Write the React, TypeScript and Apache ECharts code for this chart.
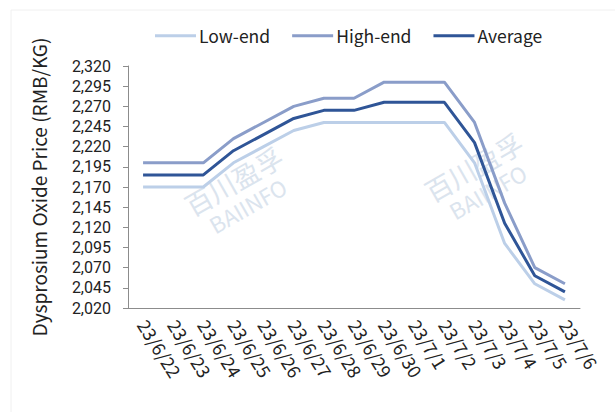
import React, { useEffect, useRef } from "react";
import * as echarts from "echarts";

const categories = [
  "23/6/22", "23/6/23", "23/6/24", "23/6/25", "23/6/26", "23/6/27", "23/6/28",
  "23/6/29", "23/6/30", "23/7/1", "23/7/2", "23/7/3", "23/7/4", "23/7/5", "23/7/6",
];
const lowEnd = [2170, 2170, 2170, 2200, 2220, 2240, 2250, 2250, 2250, 2250, 2250, 2200, 2100, 2050, 2030];
const highEnd = [2200, 2200, 2200, 2230, 2250, 2270, 2280, 2280, 2300, 2300, 2300, 2250, 2150, 2070, 2050];
const average = [2185, 2185, 2185, 2215, 2235, 2255, 2265, 2265, 2275, 2275, 2275, 2225, 2125, 2060, 2040];
const seriesNames = ["Low-end", "High-end", "Average"];
const yMin = 2020;
const yMax = 2320;
const yStep = 25;

const FONT = "'Noto Sans CJK SC', 'Noto Sans', sans-serif";

function watermark(x: number, y: number) {
  return {
    type: "group",
    x,
    y,
    rotation: 0.52,
    z: 0,
    silent: true,
    children: [
      {
        type: "text",
        x: 0,
        y: -13,
        style: {
          text: "百川盈孚",
          fontSize: 27,
          fontFamily: FONT,
          fill: "#dbe4ee",
          align: "center",
          verticalAlign: "middle",
        },
      },
      {
        type: "text",
        x: 0,
        y: 15,
        style: {
          text: "BAIINFO",
          fontSize: 22,
          fontFamily: FONT,
          fill: "#dbe4ee",
          align: "center",
          verticalAlign: "middle",
        },
      },
    ],
  };
}

export default function App() {
  const ref = useRef<HTMLDivElement>(null);

  useEffect(() => {
    if (!ref.current) return;
    const chart = echarts.init(ref.current, null, { renderer: "svg" });
    const colors = ["#bccfe8", "#8a9dc9", "#2f5597"];
    const data = [lowEnd, highEnd, average];
    chart.setOption({
      animation: false,
      backgroundColor: "#ffffff",
      textStyle: { fontFamily: FONT },
      graphic: [
        {
          type: "rect",
          shape: { x: 11, y: 10, width: 620, height: 420 },
          style: { fill: "none", stroke: "#f0f0f0", lineWidth: 1 },
          z: -1,
          silent: true,
        },
        watermark(240, 192),
        watermark(480, 178),
      ],
      legend: {
        top: 22,
        left: 150,
        icon: "rect",
        itemWidth: 41,
        itemHeight: 3,
        itemGap: 22,
        itemStyle: { borderWidth: 0 },
        textStyle: { fontSize: 17.5, color: "#222222", fontFamily: FONT, padding: [0, 0, 0, -2] },
        data: seriesNames,
      },
      grid: { left: 128, right: 35, top: 66, bottom: 104 },
      xAxis: {
        type: "category",
        data: categories,
        boundaryGap: true,
        axisLine: { lineStyle: { color: "#8c8c8c", width: 1 } },
        axisTick: { length: 5, lineStyle: { color: "#8c8c8c" } },
        axisLabel: {
          rotate: -58,
          fontSize: 18,
          color: "#222222",
          fontFamily: FONT,
          margin: 13,
          interval: 0,
        },
      },
      yAxis: {
        type: "value",
        min: yMin,
        max: yMax,
        interval: yStep,
        name: "Dysprosium Oxide Price (RMB/KG)",
        nameLocation: "middle",
        nameGap: 80,
        nameTextStyle: { fontSize: 19, color: "#222222", fontFamily: FONT },
        splitLine: { show: false },
        axisLine: { show: true, lineStyle: { color: "#8c8c8c", width: 1 } },
        axisTick: { show: true, length: 5, lineStyle: { color: "#8c8c8c" } },
        axisLabel: {
          fontSize: 16,
          lineHeight: 18,
          color: "#222222",
          fontFamily: "Roboto, 'Noto Sans', sans-serif",
          margin: 17,
          formatter: (v: number) => v.toLocaleString("en-US"),
        },
      },
      series: seriesNames.map((name, i) => ({
        name,
        type: "line",
        data: data[i],
        symbol: "none",
        z: 3 + i,
        lineStyle: { color: colors[i], width: 3 },
        itemStyle: { color: colors[i] },
      })),
    });
    return () => chart.dispose();
  }, []);

  return (
    <div
      ref={ref}
      style={{ position: "fixed", left: 0, top: 0, width: 615, height: 412 }}
    />
  );
}
